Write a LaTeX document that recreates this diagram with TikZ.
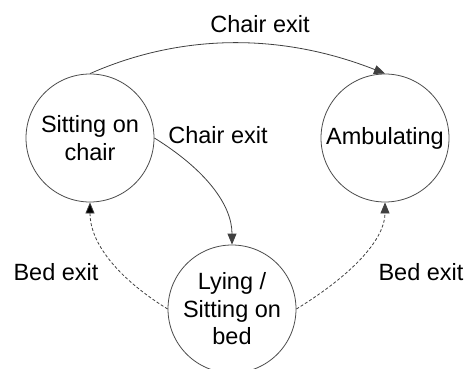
\documentclass[tikz,border=0pt]{standalone}
\usepackage{fontspec}
\setmainfont{Liberation Sans}
\usetikzlibrary{arrows.meta}
\begin{document}
\begin{tikzpicture}[x=1pt,y=-1pt,
  state/.style={circle,draw=black!70,line width=0.8pt,minimum size=128pt,inner sep=0pt,
    align=center,font=\fontsize{23.5}{27.5}\selectfont},
  lbl/.style={anchor=base,inner sep=0pt,font=\fontsize{23.5}{27.5}\selectfont},
  conn/.style={draw=black!75,line width=0.8pt,-{Triangle[length=11pt,width=9pt]}},
  dconn/.style={conn,dash pattern=on 3pt off 2pt}]
\useasboundingbox (0,0) rectangle (466,369);
\node[state] (s) at (90,138) {Sitting on\\chair};
\node[state] (a) at (385,138) {Ambulating};
\node[state] (l) at (232,309) {Lying /\\Sitting on\\bed};
\node[lbl] (t1) at (260,33) {Chair exit};
\node[lbl] (t2) at (218,143) {Chair exit};
\node[lbl] (t3) at (56,280) {Bed exit};
\node[lbl] (t4) at (421,280) {Bed exit};
\draw[conn] (s.north) .. controls (182,33) and (282,33) .. (a.north);
\draw[conn] (s.east) .. controls (206,170) and (232,205) .. (l.north);
\draw[dconn,-{Triangle[length=11pt,width=9pt,fill=black]}] (l.west) .. controls (116,277) and (90,242) .. (s.south);
\draw[dconn] (l.east) .. controls (355,273) and (385,238) .. (a.south);
\end{tikzpicture}
\end{document}
